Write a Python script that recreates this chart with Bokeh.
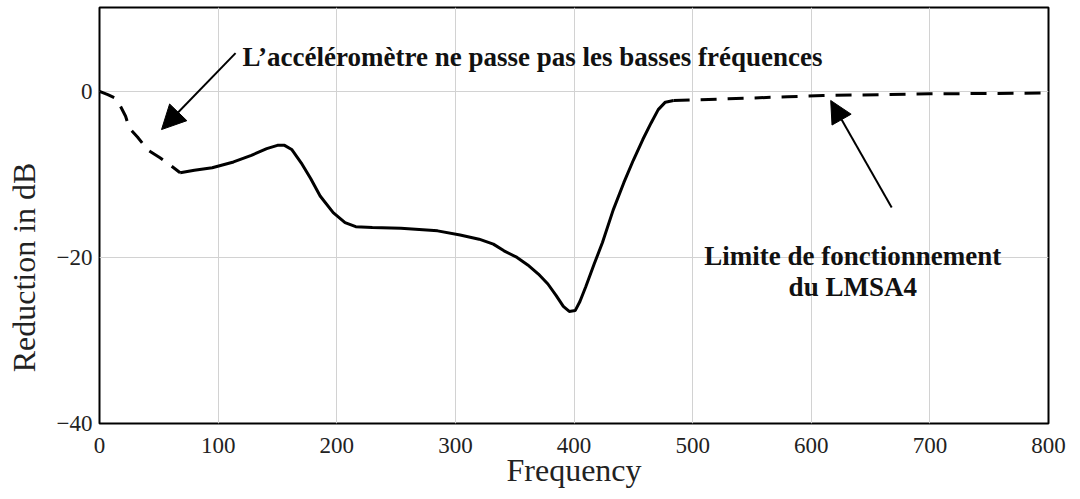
from bokeh.plotting import figure
from bokeh.models import Label, Arrow, NormalHead, FixedTicker
from bokeh.embed import file_html
from bokeh.resources import INLINE

# ---- data ----
low_freq_x = [0, 7, 13, 17, 22, 25, 32, 41, 51, 58, 68]
low_freq_y = [0, -0.4, -0.8, -1.6, -3.0, -4.4, -5.5, -7.1, -8.0, -8.7, -9.8]

main_x = [68, 80, 95, 113, 128, 141, 150, 156, 162, 170, 178, 186, 197, 207, 216,
          230, 254, 285, 304, 320, 332, 341, 352, 361, 370, 378, 385, 391, 396, 401,
          405, 410, 417, 424, 433, 442, 450, 458, 465, 471, 477, 484]
main_y = [-9.8, -9.5, -9.2, -8.5, -7.7, -6.9, -6.5, -6.5, -7.0, -8.6, -10.5, -12.6,
          -14.6, -15.8, -16.3, -16.4, -16.5, -16.8, -17.3, -17.8, -18.4, -19.2, -20.0,
          -20.9, -22.0, -23.2, -24.6, -25.9, -26.5, -26.4, -25.3, -23.5, -20.8, -18.2,
          -14.3, -11.0, -8.3, -5.8, -3.8, -2.2, -1.3, -1.1]

high_freq_x = [484, 530, 580, 610, 700, 800]
high_freq_y = [-1.1, -0.9, -0.65, -0.5, -0.3, -0.2]

x_ticks = [0, 100, 200, 300, 400, 500, 600, 700, 800]
y_ticks = [-40, -20, 0]
y_tick_labels = ["\u221240", "\u221220", "0"]

note_low = "L\u2019acc\u00e9l\u00e9rom\u00e8tre ne passe pas les basses fr\u00e9quences"
note_high_1 = "Limite de fonctionnement"
note_high_2 = "du LMSA4"
x_title = "Frequency"
y_title = "Reduction in dB"

FONT = "Liberation Serif"

p = figure(width=1072, height=491, x_range=(0, 800), y_range=(-40, 10.1),
           output_backend="svg", toolbar_location=None,
           min_border_left=99, min_border_right=24, min_border_top=7, min_border_bottom=68)

p.background_fill_color = "white"
p.border_fill_color = "white"
p.outline_line_color = "black"
p.outline_line_width = 2

# grid
p.xgrid.ticker = FixedTicker(ticks=x_ticks)
p.ygrid.ticker = FixedTicker(ticks=y_ticks)
p.grid.grid_line_color = "#d2d2d2"
p.grid.grid_line_width = 1

# axes
for ax in (p.xaxis[0], p.yaxis[0]):
    ax.axis_line_color = None
    ax.major_tick_line_color = None
    ax.minor_tick_line_color = None
    ax.major_tick_out = 0
    ax.major_tick_in = 0
    ax.major_label_text_font = FONT
    ax.major_label_text_font_size = "23px"
    ax.major_label_text_color = "#222222"
    ax.axis_label_text_font = FONT
    ax.axis_label_text_font_style = "normal"
    ax.axis_label_text_font_size = "32px"
    ax.axis_label_text_color = "#222222"

p.xaxis.ticker = FixedTicker(ticks=x_ticks)
p.yaxis.ticker = FixedTicker(ticks=y_ticks)
p.yaxis.major_label_overrides = {t: l for t, l in zip(y_ticks, y_tick_labels)}
p.xaxis.major_label_standoff = 14
p.yaxis.major_label_standoff = 7

p.xaxis.axis_label = x_title
p.xaxis.axis_label_standoff = -4

# the y title sits below the frame centre in the reference: pad its end
p.yaxis.axis_label = y_title + "\u00a0" * 13
p.yaxis.axis_label_standoff = 12

# curves
p.line(low_freq_x, low_freq_y, line_color="black", line_width=3, line_dash="16 11")
p.line(main_x, main_y, line_color="black", line_width=3)
p.line(high_freq_x, high_freq_y, line_color="black", line_width=3, line_dash="16 11")

# annotations
p.add_layout(Label(x=120.6, y=4.1, text=note_low, text_align="left",
                   text_baseline="alphabetic", text_font=FONT,
                   text_font_style="bold", text_font_size="27px", text_color="#111111"))
p.add_layout(Label(x=635, y=-19.8, text=note_high_1, text_align="center",
                   text_baseline="alphabetic", text_font=FONT,
                   text_font_style="bold", text_font_size="27px", text_color="#111111"))
p.add_layout(Label(x=635, y=-23.6, text=note_high_2, text_align="center",
                   text_baseline="alphabetic", text_font=FONT,
                   text_font_style="bold", text_font_size="27px", text_color="#111111"))

p.add_layout(Arrow(x_start=114.7, y_start=4.6, x_end=52.3, y_end=-4.6,
                   line_color="black", line_width=2,
                   end=NormalHead(size=24, fill_color="black", line_color="black")))
p.add_layout(Arrow(x_start=667.8, y_start=-14.0, x_end=616.4, y_end=-1.1,
                   line_color="black", line_width=2,
                   end=NormalHead(size=22, fill_color="black", line_color="black")))

open("out.html", "w").write(file_html(p, INLINE))
